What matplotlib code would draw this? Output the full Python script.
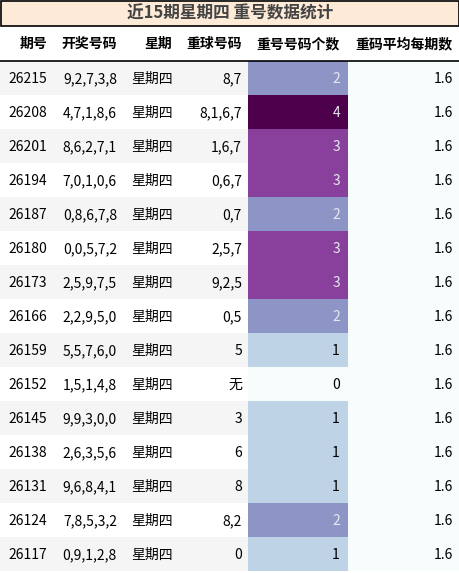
import matplotlib
matplotlib.use("Agg")
import matplotlib.pyplot as plt
from matplotlib.patches import Rectangle
from matplotlib import cm, colors

plt.rcParams['font.family'] = ['Noto Sans CJK SC', 'DejaVu Sans']

title = "近15期星期四 重号数据统计"
headers = ["期号", "开奖号码", "星期", "重球号码", "重号号码个数", "重码平均每期数"]
issues = ["26215","26208","26201","26194","26187","26180","26173","26166","26159","26152","26145","26138","26131","26124","26117"]
draws = ["9,2,7,3,8","4,7,1,8,6","8,6,2,7,1","7,0,1,0,6","0,8,6,7,8","0,0,5,7,2","2,5,9,7,5","2,2,9,5,0","5,5,7,6,0","1,5,1,4,8","9,9,3,0,0","2,6,3,5,6","9,6,8,4,1","7,8,5,3,2","0,9,1,2,8"]
weekday = ["星期四"] * 15
repeats = ["8,7","8,1,6,7","1,6,7","0,6,7","0,7","2,5,7","9,2,5","0,5","5","无","3","6","8","8,2","0"]
counts = [2,4,3,3,2,3,3,2,1,0,1,1,1,2,1]
avg = [1.6] * 15

W, H = 460, 573
fig = plt.figure(figsize=(W/100, H/100), dpi=100)
ax = fig.add_axes([0, 0, 1, 1])
ax.set_xlim(0, W); ax.set_ylim(H, 0); ax.axis('off')

edges = [0, 55, 122, 178, 248, 348, 460]
right = [47, 117, 172, 242, 340, 453]
title_h, head_b, row_h = 25, 61, 34

ax.add_patch(Rectangle((0.5, 0.5), W-1, title_h, facecolor='#fdebd8', edgecolor='black', lw=1.2))
ax.text(W/2, title_h/2+1, title, ha='center', va='center', fontsize=12, fontweight='bold', color='#444444')
for j, h in enumerate(headers):
    ax.text(right[j], (title_h+head_b)/2+1, h, ha='right', va='center', fontsize=10, fontweight='bold')
ax.plot([0, W], [head_b, head_b], color='black', lw=1.2)

cmap = cm.get_cmap('BuPu')
norm = colors.Normalize(0, 4)
for i in range(15):
    y0 = head_b + i*row_h
    yc = y0 + row_h/2 + 1
    bg = '#f5f5f5' if i % 2 == 0 else 'white'
    ax.add_patch(Rectangle((0, y0), edges[4], row_h, facecolor=bg, lw=0))
    ax.add_patch(Rectangle((edges[4], y0), edges[5]-edges[4], row_h, facecolor=cmap(norm(counts[i])), lw=0))
    ax.add_patch(Rectangle((edges[5], y0), edges[6]-edges[5], row_h, facecolor='#f7fcfd', lw=0))
    vals = [issues[i], draws[i], weekday[i], repeats[i], str(counts[i]), f"{avg[i]:.1f}"]
    for j, v in enumerate(vals):
        c = 'black'
        if j == 4 and counts[i] >= 2:
            c = '#e8e8f0'
        ha = 'right'
        x = right[j]
        if j == 2:
            ha = 'left'; x = 131
        ax.text(x, yc, v, ha=ha, va='center', fontsize=10, color=c)

fig.savefig('out.png', dpi=100)
